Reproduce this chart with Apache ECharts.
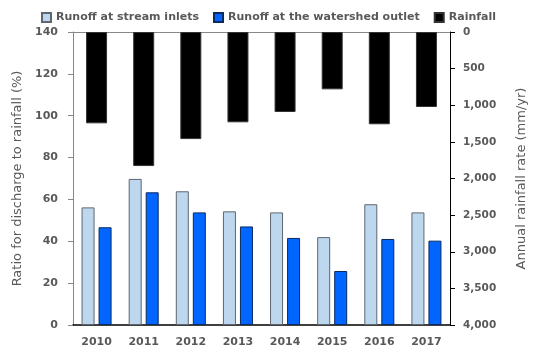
<!DOCTYPE html>
<html><head><meta charset="utf-8">
<script src="https://cdn.jsdelivr.net/npm/echarts@6/dist/echarts.min.js"></script>
<style>html,body{margin:0;padding:0;background:#fff}#c{width:537px;height:358px}</style>
</head><body><div id="c"></div>
<script>
const years = ['2010','2011','2012','2013','2014','2015','2016','2017'];
const runoffInlets = [56.2, 69.8, 63.9, 54.3, 53.8, 42.0, 57.7, 53.8];
const runoffOutlet = [46.7, 63.4, 53.8, 47.1, 41.6, 25.8, 41.1, 40.3];
const rainfall = [1247, 1830, 1462, 1233, 1092, 783, 1260, 1024];
const leftTicks = {min:0, max:140, interval:20};
const rightTicks = {min:0, max:4000, interval:500};

const FONT = 'DejaVu Sans';
const chart = echarts.init(document.getElementById('c'));
chart.setOption({
  animation:false,
  textStyle:{fontFamily:FONT},
  legend:{
    top:7, left:'center', itemWidth:9, itemHeight:9, itemGap:14, icon:'rect',
    textStyle:{fontFamily:FONT, fontWeight:'bold', fontSize:11, color:'#595959'},
    data:['Runoff at stream inlets','Runoff at the watershed outlet','Rainfall']
  },
  grid:{left:73, right:87, top:32, bottom:33},
  xAxis:[
    {type:'category', data:years, position:'bottom',
     axisLine:{lineStyle:{color:'#000', width:1.5}}, axisTick:{show:false},
     axisLabel:{color:'#595959', fontWeight:'bold', fontSize:11, margin:12}},
    {type:'category', data:years, position:'top',
     axisLine:{lineStyle:{color:'#888', width:1}}, axisTick:{show:false}, axisLabel:{show:false}}
  ],
  yAxis:[
    {type:'value', position:'left', min:leftTicks.min, max:leftTicks.max, interval:leftTicks.interval,
     name:'Ratio for discharge to rainfall (%)', nameLocation:'middle', nameGap:49, nameRotate:90,
     nameTextStyle:{color:'#595959', fontSize:13},
     axisLine:{show:true, lineStyle:{color:'#888'}}, axisTick:{show:true, inside:false, length:5, lineStyle:{color:'#888'}},
     axisLabel:{color:'#595959', fontWeight:'bold', fontSize:11, margin:15},
     splitLine:{show:false}},
    {type:'value', position:'right', inverse:true, min:rightTicks.min, max:rightTicks.max, interval:rightTicks.interval,
     name:'Annual rainfall rate (mm/yr)', nameLocation:'middle', nameGap:65, nameRotate:90,
     nameTextStyle:{color:'#595959', fontSize:13},
     axisLine:{show:true, lineStyle:{color:'#000'}}, axisTick:{show:true, inside:false, length:5, lineStyle:{color:'#000'}},
     axisLabel:{color:'#595959', fontWeight:'bold', fontSize:10.5, margin:13,
       formatter:v=>v.toLocaleString('en-US')},
     splitLine:{show:false}}
  ],
  series:[
    {name:'Runoff at stream inlets', type:'bar', xAxisIndex:0, yAxisIndex:0, data:runoffInlets,
     barWidth:13, barGap:'31%', itemStyle:{color:'#BDD7EE', borderColor:'#5f6670', borderWidth:1}},
    {name:'Runoff at the watershed outlet', type:'bar', xAxisIndex:0, yAxisIndex:0, data:runoffOutlet,
     barWidth:13, barGap:'31%', itemStyle:{color:'#0066FF', borderColor:'#0b2a60', borderWidth:1}},
    {name:'Rainfall', type:'bar', xAxisIndex:1, yAxisIndex:1, data:rainfall,
     barWidth:21, itemStyle:{color:'#000', borderColor:'#333', borderWidth:1}}
  ]
});
</script></body></html>
